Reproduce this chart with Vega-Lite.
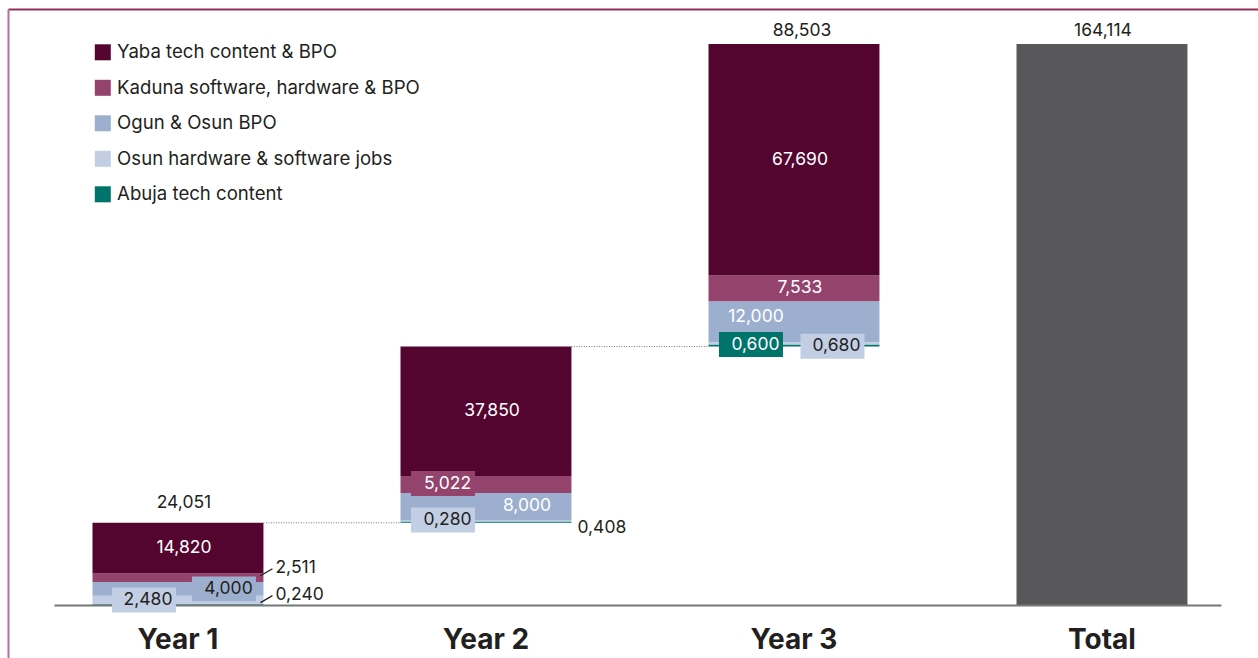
{
  "$schema": "https://vega.github.io/schema/vega-lite/v6.json",
  "width": 1250,
  "height": 649,
  "autosize": {"type": "none"},
  "padding": {"left": 8, "top": 9, "right": 0, "bottom": 0},
  "background": "white",
  "config": {
    "locale": {"number": {"decimal": ",", "thousands": ".", "grouping": [3], "currency": ["", ""]}},
    "view": {"stroke": null},
    "font": "Inter",
    "axis": {"grid": false, "title": null},
    "axisY": {"domain": true, "domainColor": "#B5709A", "domainWidth": 2, "ticks": false, "labels": false, "grid": false, "title": null},
    "text": {"font": "Inter", "fontSize": 17.5, "baseline": "middle", "color": "#231F20"}
  },
  "datasets": {
    "seg": [
      {"year": "Year 1", "cat": "Abuja tech content", "v": 0.240},
      {"year": "Year 1", "cat": "Osun hardware & software jobs", "v": 2.480},
      {"year": "Year 1", "cat": "Ogun & Osun BPO", "v": 4.000},
      {"year": "Year 1", "cat": "Kaduna software, hardware & BPO", "v": 2.511},
      {"year": "Year 1", "cat": "Yaba tech content & BPO", "v": 14.820},
      {"year": "Year 2", "cat": "Abuja tech content", "v": 0.408},
      {"year": "Year 2", "cat": "Osun hardware & software jobs", "v": 0.280},
      {"year": "Year 2", "cat": "Ogun & Osun BPO", "v": 8.000},
      {"year": "Year 2", "cat": "Kaduna software, hardware & BPO", "v": 5.022},
      {"year": "Year 2", "cat": "Yaba tech content & BPO", "v": 37.850},
      {"year": "Year 3", "cat": "Abuja tech content", "v": 0.600},
      {"year": "Year 3", "cat": "Osun hardware & software jobs", "v": 0.680},
      {"year": "Year 3", "cat": "Ogun & Osun BPO", "v": 12.000},
      {"year": "Year 3", "cat": "Kaduna software, hardware & BPO", "v": 7.533},
      {"year": "Year 3", "cat": "Yaba tech content & BPO", "v": 67.690}
    ],
    "tot": [{"year": "Total", "v": 164.114}]
  },
  "data": {"name": "seg"},
  "transform": [
    {"calculate": "indexof(['Abuja tech content','Osun hardware & software jobs','Ogun & Osun BPO','Kaduna software, hardware & BPO','Yaba tech content & BPO'], datum.cat)", "as": "o"},
    {"window": [{"op": "sum", "field": "v", "as": "cum"}], "sort": [{"field": "year"}, {"field": "o"}], "frame": [null, 0]},
    {"calculate": "datum.cum - datum.v", "as": "s0"},
    {"calculate": "datum.cum - datum.v / 2", "as": "mid"}
  ],
  "resolve": {"axis": {"x": "independent"}},
  "layer": [
    {
      "mark": {"type": "bar"},
      "encoding": {
        "x": {
          "field": "year", "type": "nominal",
          "scale": {"domain": ["Year 1", "Year 2", "Year 3", "Total"], "paddingInner": 0.445, "paddingOuter": 0.2517, "align": 0.545},
          "axis": {"orient": "bottom", "offset": -53, "domain": false, "ticks": false, "labelAngle": 0, "labelFontSize": 28, "labelFontWeight": "bold", "labelFont": "Inter", "labelColor": "#231F20", "labelBaseline": "alphabetic", "labelPadding": 43, "title": null}
        },
        "y": {"field": "s0", "type": "quantitative", "scale": {"domain": [-15.504, 174.351], "nice": false, "zero": false}, "title": null},
        "y2": {"field": "cum"},
        "color": {
          "field": "cat", "type": "nominal",
          "scale": {
            "domain": ["Yaba tech content & BPO", "Kaduna software, hardware & BPO", "Ogun & Osun BPO", "Osun hardware & software jobs", "Abuja tech content"],
            "range": ["#54052F", "#94446C", "#9DAFCF", "#C2CEE3", "#00736A"]
          },
          "legend": {"orient": "none", "legendX": 85.5, "legendY": 34, "title": null, "symbolType": "square", "symbolSize": 256, "symbolStrokeWidth": 0, "symbolOpacity": 1, "labelFontSize": 18.6, "labelFont": "Inter", "labelColor": "#231F20", "rowPadding": 16.5, "labelOffset": 5, "labelLimit": 500, "padding": 0, "direction": "vertical"}
        }
      }
    },
    {
      "data": {"name": "tot"},
      "mark": {"type": "bar", "color": "#58585A"},
      "encoding": {
        "x": {"field": "year", "type": "nominal", "axis": {"orient": "top", "labels": false, "ticks": false, "domain": true, "domainColor": "#912D59", "domainWidth": 2, "title": null}},
        "y": {"field": "v", "type": "quantitative", "title": null},
        "y2": {"datum": 0}
      }
    },
    {
      "data": {"name": "tot"},
      "mark": {"type": "text", "dy": -13, "dx": 1},
      "encoding": {
        "x": {"field": "year", "type": "nominal", "axis": null},
        "y": {"field": "v", "type": "quantitative"},
        "text": {"field": "v", "type": "quantitative", "format": ".3f"}
      }
    },
    {
      "data": {"values": [{}]},
      "mark": {"type": "rule", "color": "#777777", "strokeWidth": 2, "xOffset": -38, "x2Offset": 34, "yOffset": 0.5},
      "encoding": {
        "x": {"datum": "Year 1", "type": "nominal", "bandPosition": 0, "axis": null},
        "x2": {"datum": "Total", "bandPosition": 1},
        "y": {"datum": 0, "type": "quantitative"}
      }
    },
    {
      "transform": [
        {"aggregate": [{"op": "max", "field": "cum", "as": "top"}, {"op": "sum", "field": "v", "as": "tot"}], "groupby": ["year"]},
        {"window": [{"op": "lead", "field": "year", "as": "next"}], "sort": [{"field": "year"}]}
      ],
      "layer": [
        {
          "transform": [{"filter": "datum.next != null"}],
          "mark": {"type": "rule", "color": "#777777", "strokeWidth": 1, "strokeDash": [1, 1.5]},
          "encoding": {
            "x": {"field": "year", "type": "nominal", "bandPosition": 1, "axis": null},
            "x2": {"field": "next", "bandPosition": 0},
            "y": {"field": "top", "type": "quantitative"}
          }
        },
        {
          "transform": [{"filter": "datum.year == 'Year 1'"}],
          "mark": {"type": "text", "dy": -20, "dx": 6},
          "encoding": {
            "x": {"field": "year", "type": "nominal", "axis": null},
            "y": {"field": "top", "type": "quantitative"},
            "text": {"field": "tot", "type": "quantitative", "format": ".3f"}
          }
        },
        {
          "transform": [{"filter": "datum.year == 'Year 3'"}],
          "mark": {"type": "text", "dy": -13, "dx": 8},
          "encoding": {
            "x": {"field": "year", "type": "nominal", "axis": null},
            "y": {"field": "top", "type": "quantitative"},
            "text": {"field": "tot", "type": "quantitative", "format": ".3f"}
          }
        }
      ]
    },
    {
      "transform": [{"filter": "datum.year == 'Year 1' && (datum.cat == 'Kaduna software, hardware & BPO' || datum.cat == 'Abuja tech content')"}],
      "layer": [
        {
          "mark": {"type": "rule", "color": "#231F20", "strokeWidth": 1.3, "xOffset": -3, "x2Offset": 9, "yOffset": -2, "y2Offset": -9},
          "encoding": {
            "x": {"field": "year", "type": "nominal", "bandPosition": 1, "axis": null},
            "x2": {"field": "year", "bandPosition": 1},
            "y": {"field": "mid", "type": "quantitative"},
            "y2": {"field": "mid"}
          }
        },
        {
          "mark": {"type": "text", "align": "left", "dx": 12, "dy": -10},
          "encoding": {
            "x": {"field": "year", "type": "nominal", "bandPosition": 1, "axis": null},
            "y": {"field": "mid", "type": "quantitative"},
            "text": {"field": "v", "type": "quantitative", "format": ".3f"}
          }
        }
      ]
    },
    {
      "transform": [{"filter": "datum.year == 'Year 2' && datum.cat == 'Abuja tech content'"}],
      "mark": {"type": "text", "align": "left", "dx": 6, "dy": 6},
      "encoding": {
        "x": {"field": "year", "type": "nominal", "bandPosition": 1, "axis": null},
        "y": {"field": "mid", "type": "quantitative"},
        "text": {"field": "v", "type": "quantitative", "format": ".3f"}
      }
    },
    {
      "transform": [{"filter": "datum.cat == 'Yaba tech content & BPO' || (datum.year == 'Year 3' && datum.cat == 'Kaduna software, hardware & BPO')"}],
      "mark": {"type": "text", "dx": 6, "color": "white"},
      "encoding": {
        "x": {"field": "year", "type": "nominal", "axis": null},
        "y": {"field": "mid", "type": "quantitative"},
        "text": {"field": "v", "type": "quantitative", "format": ".3f"}
      }
    },
    {
      "transform": [{"filter": "datum.year == 'Year 2' && datum.cat == 'Ogun & Osun BPO'"}],
      "mark": {"type": "text", "dx": 41, "dy": -1, "color": "white"},
      "encoding": {
        "x": {"field": "year", "type": "nominal", "axis": null},
        "y": {"field": "mid", "type": "quantitative"},
        "text": {"field": "v", "type": "quantitative", "format": ".3f"}
      }
    },
    {
      "transform": [{"filter": "datum.year == 'Year 3' && datum.cat == 'Ogun & Osun BPO'"}],
      "mark": {"type": "text", "dx": -38, "dy": -5, "color": "white"},
      "encoding": {
        "x": {"field": "year", "type": "nominal", "axis": null},
        "y": {"field": "mid", "type": "quantitative"},
        "text": {"field": "v", "type": "quantitative", "format": ".3f"}
      }
    },
    {
      "transform": [{"filter": "datum.year == 'Year 1' && datum.cat == 'Osun hardware & software jobs'"}],
      "layer": [
        {
          "mark": {"type": "point", "shape": "M-1,-0.39L1,-0.39L1,0.39L-1,0.39Z", "size": 4096, "filled": true, "opacity": 1, "strokeWidth": 0, "xOffset": -34, "yOffset": 0},
          "encoding": {
            "x": {"field": "year", "type": "nominal", "axis": null},
            "y": {"field": "mid", "type": "quantitative"},
            "fill": {"field": "cat", "type": "nominal", "legend": null, "scale": {"domain": ["Yaba tech content & BPO", "Kaduna software, hardware & BPO", "Ogun & Osun BPO", "Osun hardware & software jobs", "Abuja tech content"], "range": ["#54052F", "#94446C", "#9DAFCF", "#C2CEE3", "#00736A"]}}
          }
        },
        {
          "mark": {"type": "text", "dx": -30, "dy": 0},
          "encoding": {
            "x": {"field": "year", "type": "nominal", "axis": null},
            "y": {"field": "mid", "type": "quantitative"},
            "text": {"field": "v", "type": "quantitative", "format": ".3f"}
          }
        }
      ]
    },
    {
      "transform": [{"filter": "(datum.year == 'Year 2' && (datum.cat == 'Kaduna software, hardware & BPO' || datum.cat == 'Osun hardware & software jobs')) || (datum.year == 'Year 3' && datum.cat == 'Abuja tech content')"}],
      "layer": [
        {
          "mark": {"type": "point", "shape": "M-1,-0.39L1,-0.39L1,0.39L-1,0.39Z", "size": 4096, "filled": true, "opacity": 1, "strokeWidth": 0, "xOffset": -43, "yOffset": -1},
          "encoding": {
            "x": {"field": "year", "type": "nominal", "axis": null},
            "y": {"field": "mid", "type": "quantitative"},
            "fill": {"field": "cat", "type": "nominal", "legend": null, "scale": {"domain": ["Yaba tech content & BPO", "Kaduna software, hardware & BPO", "Ogun & Osun BPO", "Osun hardware & software jobs", "Abuja tech content"], "range": ["#54052F", "#94446C", "#9DAFCF", "#C2CEE3", "#00736A"]}}
          }
        },
        {
          "mark": {"type": "text", "dx": -38.5, "dy": -1},
          "encoding": {
            "x": {"field": "year", "type": "nominal", "axis": null},
            "y": {"field": "mid", "type": "quantitative"},
            "text": {"field": "v", "type": "quantitative", "format": ".3f"},
            "color": {"condition": {"test": "datum.cat == 'Kaduna software, hardware & BPO' || datum.cat == 'Abuja tech content'", "value": "white"}, "value": "#231F20"}
          }
        }
      ]
    },
    {
      "transform": [{"filter": "datum.year == 'Year 1' && datum.cat == 'Ogun & Osun BPO'"}],
      "layer": [
        {
          "mark": {"type": "point", "shape": "M-1,-0.39L1,-0.39L1,0.39L-1,0.39Z", "size": 4096, "filled": true, "opacity": 1, "strokeWidth": 0, "xOffset": 46, "yOffset": 0},
          "encoding": {
            "x": {"field": "year", "type": "nominal", "axis": null},
            "y": {"field": "mid", "type": "quantitative"},
            "fill": {"field": "cat", "type": "nominal", "legend": null, "scale": {"domain": ["Yaba tech content & BPO", "Kaduna software, hardware & BPO", "Ogun & Osun BPO", "Osun hardware & software jobs", "Abuja tech content"], "range": ["#54052F", "#94446C", "#9DAFCF", "#C2CEE3", "#00736A"]}}
          }
        },
        {
          "mark": {"type": "text", "dx": 50.5, "dy": 0},
          "encoding": {
            "x": {"field": "year", "type": "nominal", "axis": null},
            "y": {"field": "mid", "type": "quantitative"},
            "text": {"field": "v", "type": "quantitative", "format": ".3f"}
          }
        }
      ]
    },
    {
      "transform": [{"filter": "datum.year == 'Year 3' && datum.cat == 'Osun hardware & software jobs'"}],
      "layer": [
        {
          "mark": {"type": "point", "shape": "M-1,-0.39L1,-0.39L1,0.39L-1,0.39Z", "size": 4096, "filled": true, "opacity": 1, "strokeWidth": 0, "xOffset": 38.5, "yOffset": 3},
          "encoding": {
            "x": {"field": "year", "type": "nominal", "axis": null},
            "y": {"field": "mid", "type": "quantitative"},
            "fill": {"field": "cat", "type": "nominal", "legend": null, "scale": {"domain": ["Yaba tech content & BPO", "Kaduna software, hardware & BPO", "Ogun & Osun BPO", "Osun hardware & software jobs", "Abuja tech content"], "range": ["#54052F", "#94446C", "#9DAFCF", "#C2CEE3", "#00736A"]}}
          }
        },
        {
          "mark": {"type": "text", "dx": 42.5, "dy": 3},
          "encoding": {
            "x": {"field": "year", "type": "nominal", "axis": null},
            "y": {"field": "mid", "type": "quantitative"},
            "text": {"field": "v", "type": "quantitative", "format": ".3f"}
          }
        }
      ]
    }
  ]
}
